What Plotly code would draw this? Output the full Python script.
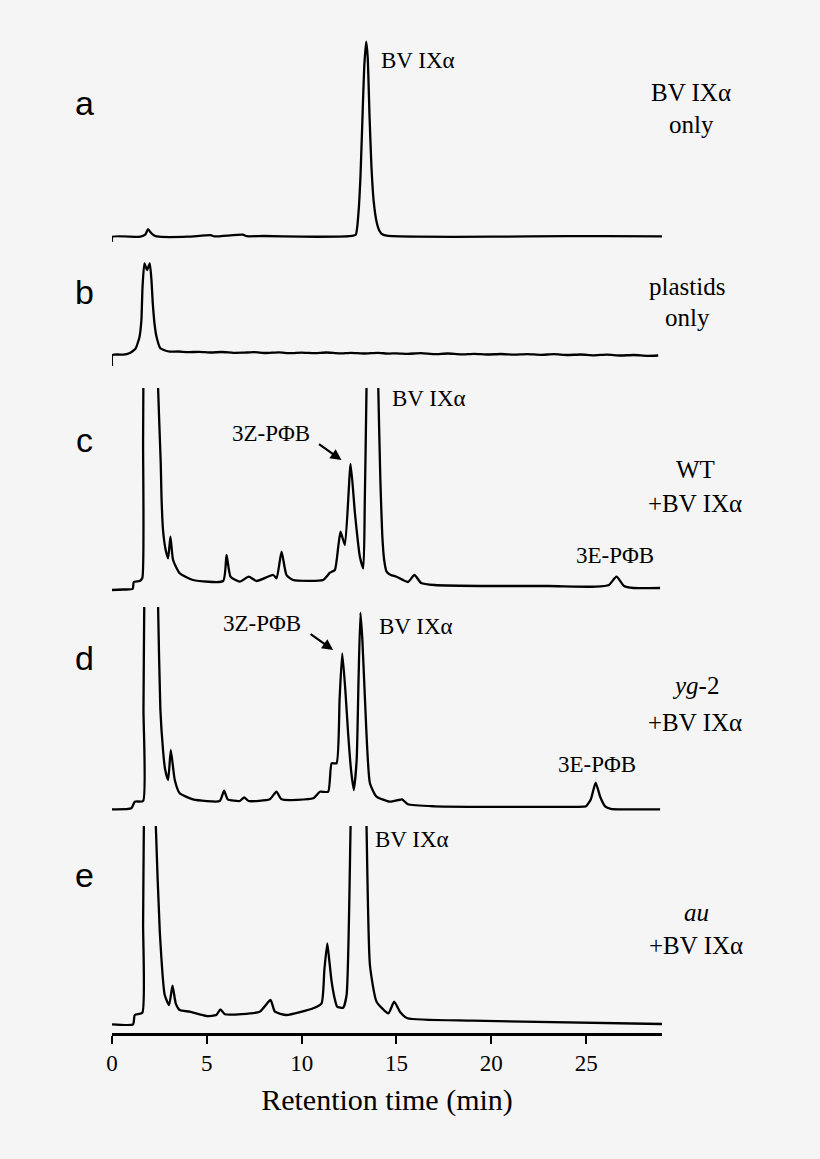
import plotly.graph_objects as go

# ---- values (time in min, signal in arbitrary units) ----
TIME_A = [0, 0.02, 1.5, 1.75, 1.9, 2.05, 2.25, 2.5, 4.0, 5.2, 5.4, 6.9, 7.1, 8.0, 10.0, 12.5,
          12.85, 13.0, 13.1, 13.2, 13.3, 13.4, 13.48, 13.58, 13.68, 13.8, 13.95, 14.1, 14.25,
          14.5, 16.0, 20.0, 24.0, 26.0, 29.0]
SIGNAL_A = [-5, 0, 0, 2, 7.5, 4, 1, 0, 0, 1.5, 0.3, 2, 0.5, 0.7, 0, 0.5,
            2, 25, 60, 115, 170, 195, 180, 120, 70, 35, 15, 6, 2.5,
            1, 0, 0, 0.5, 0.5, 0.3]

TIME_B = [0, 0.02, 0.3, 0.6, 0.94, 1.1, 1.25, 1.45, 1.55, 1.61, 1.71, 1.85, 1.99, 2.08, 2.15,
          2.25, 2.35, 2.55, 2.8, 3.05, 3.5, 4.0, 4.6, 5.2, 5.8, 6.4, 6.9, 7.5, 8.1, 8.8,
          9.4, 10.0, 10.7, 11.3, 12.0, 12.6, 13.3, 14.0, 14.6, 15.0, 15.6, 16.3, 17.0, 17.7,
          18.4, 19.1, 19.8, 20.5, 21.2, 21.9, 22.6, 23.3, 24.0, 24.7, 25.4, 26.1, 26.8, 27.5,
          28.2, 28.8]
SIGNAL_B = [-11, 0, 0.5, 0.3, 2, 4, 6.7, 18, 35, 68, 91.7, 85, 91.7, 75, 51.7,
            30, 18, 6.7, 4.5, 3.3, 3.5, 2.8, 3.2, 2.5, 3, 2.2, 2.3, 2.8, 2, 2.6,
            1.8, 2.4, 1.9, 2.5, 1.6, 2.2, 1.5, 2.1, 1.4, 1.7, 1.2, 1.8, 0.8, 1.5,
            0.6, 1.2, 0.5, 1, 0.4, 0.9, 0.2, 0.8, 0, 0.5, -0.3, 0.4, -0.5, 0,
            -0.8, -0.5]

TIME_C = [0, 0.6, 1.09, 1.15, 1.46, 1.6, 1.64, 1.68, 1.8, 2.0, 2.2, 2.35, 2.43, 2.57, 2.61,
          2.69, 2.83, 2.96, 3.08, 3.22, 3.57, 4.27, 5.86, 6.04, 6.25, 6.74, 7.21, 7.62, 8.5,
          8.68, 8.94, 9.2, 9.55, 11.13, 11.49, 11.75, 11.93, 12.05, 12.28, 12.58, 12.81,
          13.07, 13.25, 13.33, 13.42, 13.55, 13.7, 13.85, 14.04, 14.15, 14.25, 14.35, 14.48,
          14.7, 15.0, 15.6, 15.95, 16.3, 17.0, 20.0, 23.0, 25.5, 26.2, 26.6, 27.0, 27.5, 28.9]
SIGNAL_C = [0, 0.5, 1, 8, 9, 12, 150, 300, 480, 520, 420, 300, 201.7, 126.7, 93,
            60, 40, 31.7, 53.3, 30, 16.7, 10, 9, 35, 13.3, 8.3, 13.3, 9, 15,
            11.7, 38.3, 15, 10, 10, 17.3, 20, 43.3, 58.3, 45, 126, 76.7,
            33.3, 21.7, 90, 201.7, 400, 480, 400, 201.7, 110, 55, 30, 18.3,
            15, 13.3, 8, 15, 7, 5, 4, 4, 3.3, 5, 13.3, 4, 2, 2]

TIME_D = [0, 1.02, 1.2, 1.64, 1.66, 1.7, 1.85, 2.05, 2.25, 2.43, 2.55, 2.69, 2.8, 2.96, 3.1,
          3.31, 3.57, 4.27, 5.68, 5.91, 6.1, 6.74, 6.97, 7.2, 8.32, 8.67, 8.94, 10.61, 10.96,
          11.4, 11.58, 11.84, 12.0, 12.14, 12.3, 12.45, 12.6, 12.75, 12.9, 13.0, 13.1, 13.2,
          13.34, 13.6, 13.95, 14.65, 15.1, 15.3, 15.6, 17.0, 24.9, 25.0, 25.25, 25.5, 25.75,
          26.0, 26.3, 28.9]
SIGNAL_D = [0, 1, 7.6, 8.3, 100, 202.6, 450, 500, 400, 202.6, 100, 59.3, 40, 29.3, 59.3,
            29.3, 16, 10, 8.3, 18.6, 10, 8.3, 12, 8.3, 10, 17.6, 10, 11, 17.6,
            17.6, 46, 46, 110, 156, 120, 76, 40, 19.3, 49.3, 130, 196.6, 170,
            109.3, 26, 12.6, 7.6, 9.3, 10, 5, 3, 2.6, 3, 10, 26.6, 12,
            3, 0.5, 0]

TIME_E = [0, 1.11, 1.2, 1.6, 1.64, 1.68, 1.9, 2.1, 2.31, 2.52, 2.78, 3.01, 3.19, 3.36, 3.57,
          4.1, 4.98, 5.5, 5.72, 5.95, 7.79, 8.36, 8.59, 9.2, 10.61, 11.05, 11.2, 11.35, 11.45,
          11.58, 11.75, 11.87, 12.19, 12.37, 12.58, 12.9, 13.2, 13.42, 13.6, 13.95, 14.57,
          14.88, 15.2, 15.58, 19.0, 29.0]
SIGNAL_E = [0, 0, 9.3, 11.6, 100, 198.6, 450, 400, 198.6, 92.6, 29.3, 19.3, 38.6, 21, 14.3,
            12.6, 8.3, 9.3, 15, 10, 12.6, 24.3, 12.6, 9.3, 16, 21, 55, 81, 65,
            42.6, 25, 17.6, 16.6, 29.3, 198.6, 600, 450, 198.6, 59.3, 22.6, 11,
            22.6, 12, 6, 3.6, 0.3]

TICK_VALUES = [0, 5, 10, 15, 20, 25]
PANEL_LETTERS = ['a', 'b', 'c', 'd', 'e']
PANEL_CONDITIONS = [('BV IXα', 'only'), ('plastids', 'only'), ('WT', '+BV IXα'),
                    ('<i>yg</i>-2', '+BV IXα'), ('<i>au</i>', '+BV IXα')]

# ---- page geometry (pixels of the 820x1159 page) ----
W, H = 820, 1159
ML, MR, MT, MB = 112, 158, 30, 126
SERIF = 'Liberation Serif, Times New Roman, serif'
SANS = 'Liberation Sans, Arial, sans-serif'
BG = '#f5f5f5'

# (top px, bottom px, baseline px) of every panel
PANEL_BOXES = [(38, 250, 236.7), (255, 370, 355), (388, 598, 590),
               (607, 815, 809.3), (826, 1033, 1024.3)]


def px_x(px):
    return (px - ML) / (W - ML - MR)


def px_y(px):
    return (H - MB - px) / (H - MT - MB)


series = [(TIME_A, SIGNAL_A), (TIME_B, SIGNAL_B), (TIME_C, SIGNAL_C),
          (TIME_D, SIGNAL_D), (TIME_E, SIGNAL_E)]

fig = go.Figure()
layout_axes = {}

for i, ((t, s), (top, bottom, base)) in enumerate(zip(series, PANEL_BOXES)):
    assert len(t) == len(s), PANEL_LETTERS[i]
    ya = 'y' if i == 0 else f'y{i + 1}'
    fig.add_trace(go.Scatter(
        x=t, y=s, mode='lines',
        line=dict(color='black', width=2.3, shape='spline', smoothing=0.5),
        xaxis='x', yaxis=ya,
        showlegend=False, hoverinfo='skip'
    ))
    # 1 signal unit = 1 pixel, baseline at 0
    layout_axes['yaxis' if i == 0 else f'yaxis{i + 1}'] = dict(
        domain=[px_y(bottom), px_y(top)],
        range=[base - bottom, base - top],
        anchor='x', visible=False, fixedrange=True
    )

annotations = []

# 面板字母
for letter, y in zip(PANEL_LETTERS, [103, 292, 440, 658, 875]):
    annotations.append(dict(
        xref='paper', yref='paper', x=px_x(84), y=px_y(y),
        text=letter, showarrow=False, xanchor='center', yanchor='middle',
        font=dict(family=SANS, size=34, color='black')
    ))

# 右側條件說明
cond_pos = [(691, 93, 124), (687, 286, 317), (695, 470, 503), (695, 685, 722), (696, 912, 945)]
for (line1, line2), (cx, y1, y2) in zip(PANEL_CONDITIONS, cond_pos):
    for txt, yy in ((line1, y1), (line2, y2)):
        annotations.append(dict(
            xref='paper', yref='paper', x=px_x(cx), y=px_y(yy),
            text=txt, showarrow=False, xanchor='center', yanchor='middle',
            font=dict(family=SERIF, size=25, color='black')
        ))

# 峰標籤 (time, signal, panel yref, anchor)
peak_labels = [
    ('BV IXα', 14.08, 176.7, 'y', 'left'),
    ('BV IXα', 14.68, 191.7, 'y3', 'left'),
    ('3Z-PΦB', 8.37, 156.7, 'y3', 'center'),
    ('3E-PΦB', 26.53, 35, 'y3', 'center'),
    ('3Z-PΦB', 7.9, 186, 'y4', 'center'),
    ('BV IXα', 13.97, 182.6, 'y4', 'left'),
    ('3E-PΦB', 25.58, 44.3, 'y4', 'center'),
    ('BV IXα', 13.76, 185, 'y5', 'left'),
]
for txt, tx, ty, yref, anchor in peak_labels:
    annotations.append(dict(
        xref='x', yref=yref, x=tx, y=ty, text=txt, showarrow=False,
        xanchor=anchor, yanchor='middle',
        font=dict(family=SERIF, size=23, color='black')
    ))

# 箭頭 (3Z-PΦB)
for tx, ty, yref in [(12.1, 130, 'y3'), (11.66, 159.3, 'y4')]:
    annotations.append(dict(
        xref='x', yref=yref, x=tx, y=ty, text='', showarrow=True,
        ax=-24, ay=-17, arrowhead=2, arrowsize=1, arrowwidth=2.2, arrowcolor='black'
    ))

fig.update_layout(
    width=W, height=H,
    margin=dict(l=ML, r=MR, t=MT, b=MB),
    paper_bgcolor=BG, plot_bgcolor=BG,
    xaxis=dict(
        domain=[0, 1], range=[0, 29], anchor='y5',
        showline=True, linecolor='black', linewidth=2.5,
        ticks='outside', ticklen=8, tickwidth=2, tickcolor='black',
        tickvals=TICK_VALUES, showgrid=False, zeroline=False,
        tickfont=dict(family=SERIF, size=23, color='black'),
        title=dict(text='Retention time (min)', standoff=14,
                   font=dict(family=SERIF, size=30, color='black')),
        fixedrange=True
    ),
    annotations=annotations,
    **layout_axes
)

# 頁面邊距歸零，讓圖表貼齊視窗
fig.write_html(
    "out.html",
    config={'displayModeBar': False, 'staticPlot': True},
    post_script=(f"document.body.style.margin='0';document.body.style.overflow='hidden';"
                 f"document.body.style.background='{BG}';")
)
